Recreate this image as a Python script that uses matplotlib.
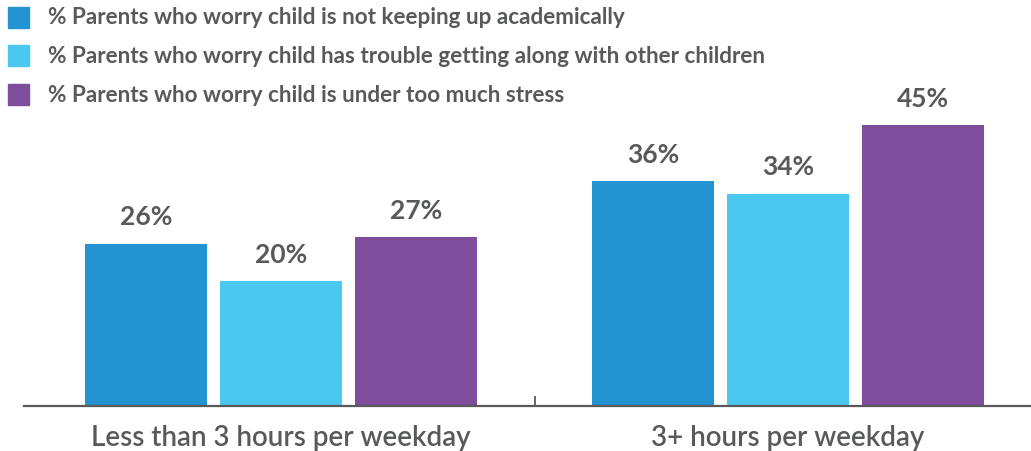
import matplotlib
matplotlib.use("Agg")
import matplotlib.pyplot as plt
from matplotlib.patches import Rectangle

categories = ["Less than 3 hours per weekday", "3+ hours per weekday"]
series_names = [
    "% Parents who worry child is not keeping up academically",
    "% Parents who worry child has trouble getting along with other children",
    "% Parents who worry child is under too much stress",
]
academic = [26, 36]
social = [20, 34]
stress = [27, 45]
series_values = [academic, social, stress]
colors = ["#2393D2", "#4AC8F0", "#7E4D9B"]
text_color = "#58595B"

plt.rcParams["font.family"] = ["Lato", "DejaVu Sans"]

W, H = 1031, 452
fig = plt.figure(figsize=(W / 100, H / 100), dpi=100)
ax = fig.add_axes([24 / W, (H - 407) / H, (W - 24) / W, 407 / H])

bar_w = 0.2406
step = 0.2663
for i, (vals, col) in enumerate(zip(series_values, colors)):
    xs = [g + (i - 1) * step for g in range(len(categories))]
    ax.bar(xs, vals, width=bar_w, color=col, zorder=2)
    for x, v in zip(xs, vals):
        ax.annotate(f"{v}%", (x, v), xytext=(0, 19.5), textcoords="offset points",
                    ha="center", va="center", fontsize=19, fontweight="bold",
                    color=text_color, annotation_clip=False)

ax.set_xlim(-0.507, 1.479)
ax.set_ylim(0, 65.12)
for s in ["top", "right", "left"]:
    ax.spines[s].set_visible(False)
ax.spines["bottom"].set_color(text_color)
ax.spines["bottom"].set_linewidth(1.6)
ax.spines["bottom"].set_zorder(3)
ax.set_yticks([])
ax.set_xticks([0.5])
ax.set_xticklabels([""])
ax.tick_params(axis="x", direction="in", length=7.5, width=1.3, color=text_color)

for g, name in enumerate(categories):
    ax.annotate(name, (g, 0), xytext=(0, -22), textcoords="offset points",
                ha="center", va="center", fontsize=20, fontweight="semibold",
                color=text_color, annotation_clip=False)

# legend drawn as swatches with text in figure pixels
for i, (name, col) in enumerate(zip(series_names, colors)):
    yc = 18 + i * 38.5
    fig.patches.append(Rectangle((8 / W, (H - yc - 10.5) / H), 21 / W, 21 / H,
                                 transform=fig.transFigure, color=col))
    fig.text(48 / W, (H - yc) / H, name, ha="left", va="center",
             fontsize=16.2, fontweight="bold", color=text_color)

fig.savefig("out.png", dpi=100)
